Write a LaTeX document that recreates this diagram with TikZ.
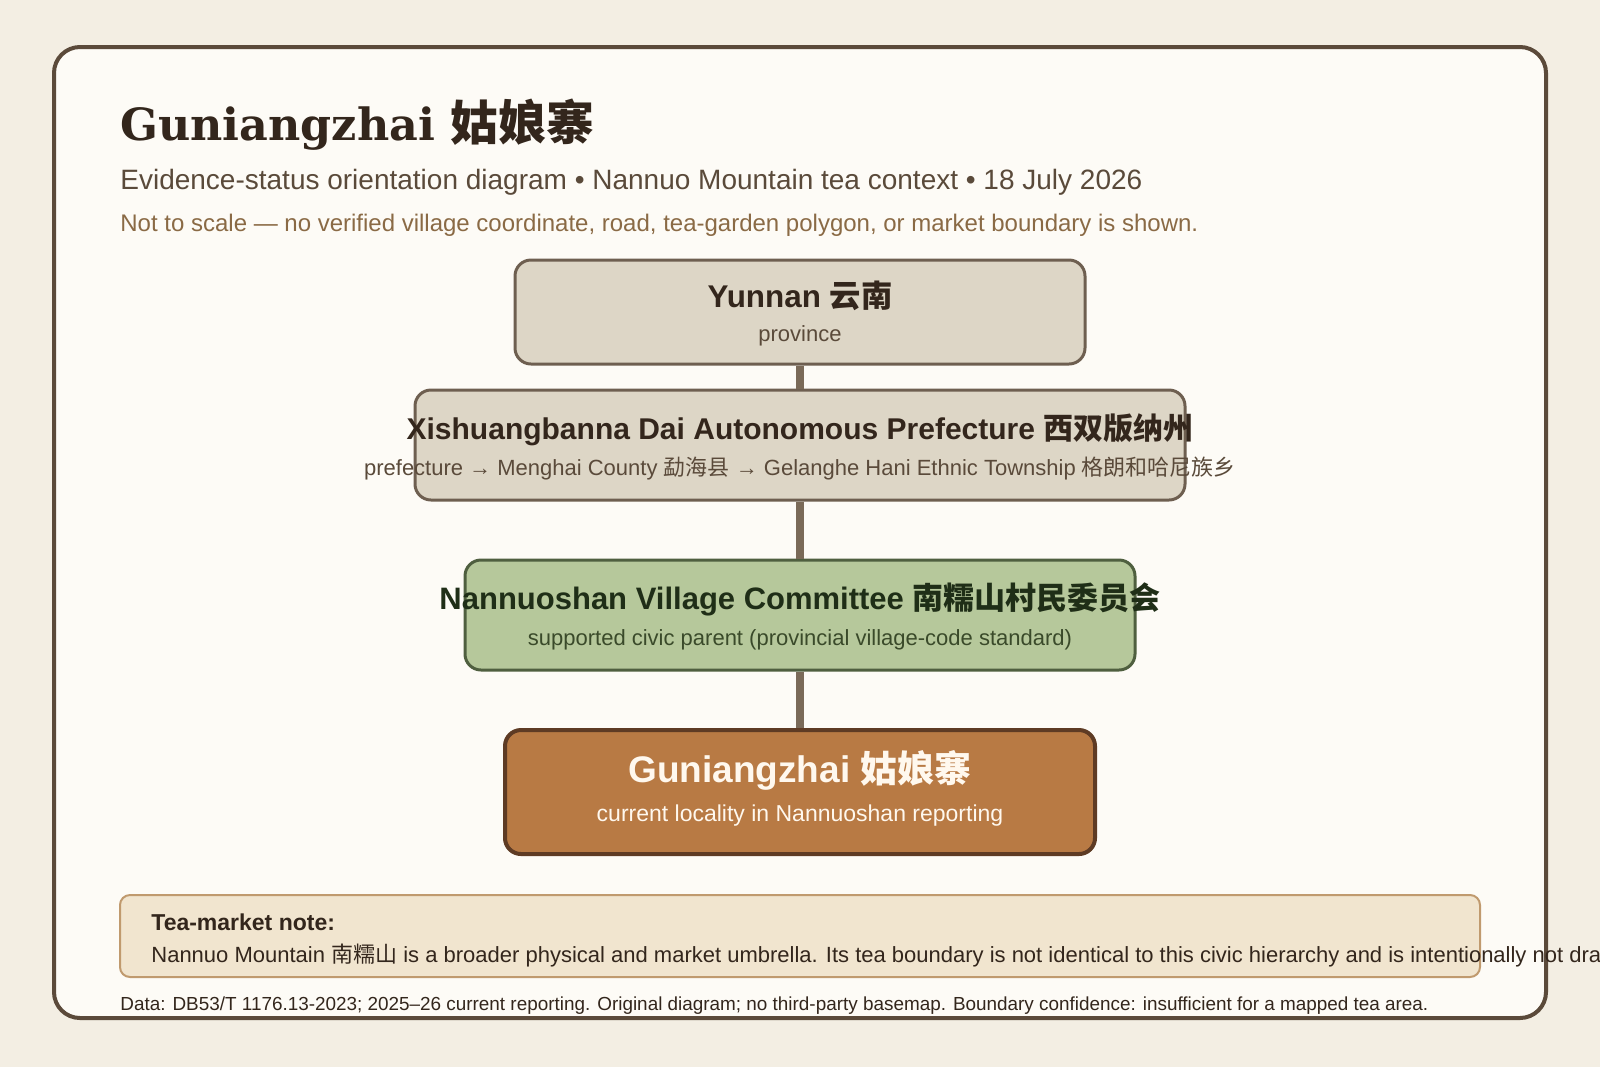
\documentclass[tikz,border=0pt]{standalone}
\usepackage{fontspec}
\setmainfont{Liberation Sans}
\newfontfamily\cjk{Noto Sans CJK SC}
\newfontfamily\headserif{DejaVu Serif}
\usetikzlibrary{positioning}

\definecolor{pagebg}{HTML}{F3EEE3}
\definecolor{panelbg}{HTML}{FDFBF6}
\definecolor{framec}{HTML}{5B4A3A}
\definecolor{inkdark}{HTML}{33261C}
\definecolor{inkmid}{HTML}{5A4A3A}
\definecolor{inknote}{HTML}{8A6A45}
\definecolor{greyfill}{HTML}{DDD6C6}
\definecolor{greyline}{HTML}{6E5F50}
\definecolor{greenfill}{HTML}{B6C89B}
\definecolor{greenline}{HTML}{4F5F3F}
\definecolor{greenink}{HTML}{1F2E17}
\definecolor{greensub}{HTML}{3A4A2A}
\definecolor{ochrefill}{HTML}{B87A44}
\definecolor{ochreline}{HTML}{5E3B24}
\definecolor{ochreink}{HTML}{FFF8EE}
\definecolor{notefill}{HTML}{F1E5CF}
\definecolor{noteline}{HTML}{C09A6E}
\definecolor{linkc}{HTML}{7A6A58}

\newcommand{\fsz}[1]{\fontsize{#1pt}{#1pt}\selectfont}

\tikzset{
    tier/.style={draw=greyline, fill=greyfill, line width=1.5pt, rounded corners=8pt},
    civic/.style={tier, draw=greenline, fill=greenfill},
    locality/.style={tier, draw=ochreline, fill=ochrefill, line width=2pt},
    notebox/.style={draw=noteline, fill=notefill, line width=1pt, rounded corners=5pt},
    tiername/.style={inner sep=0pt, anchor=base, font=\fsz{15}\bfseries, text=inkdark},
    tiersub/.style={inner sep=0pt, anchor=base, font=\fsz{11}, text=inkmid},
    plain/.style={inner sep=0pt, anchor=base west},
    link/.style={draw=linkc, line width=4pt}
}

\begin{document}
\begin{tikzpicture}[x=0.5pt, y=-0.5pt]

    % Page and panel
    \useasboundingbox (0,0) rectangle (1600,1067);
    \clip (0,0) rectangle (1600,1067);
    \fill[pagebg] (0,0) rectangle (1600,1067);
    \draw[framec, fill=panelbg, line width=2pt, rounded corners=13pt] (54,47) rectangle (1546,1018);

    % Heading
    \node[plain, text=inkdark] (title) at (120,140)
        {\headserif\bfseries\fsz{22.2}Guniangzhai {\cjk\fsz{24}姑娘寨}};
    \node[plain, text=inkmid, font=\fsz{14}] (subtitle) at (120,189)
        {Evidence-status orientation diagram • Nannuo Mountain tea context • 18 July 2026};
    \node[plain, text=inknote, font=\fsz{12}] (scalenote) at (120,231)
        {Not to scale — no verified village coordinate, road, tea-garden polygon, or market boundary is shown.};

    % The tiers
    \node[tier, minimum width=285pt, minimum height=52pt] (yun) at (800,312) {};
    \node[tier, minimum width=385pt, minimum height=55pt] (xsbn) at (800,445) {};
    \node[civic, minimum width=335pt, minimum height=55pt] (nns) at (800,615) {};
    \node[locality, minimum width=295pt, minimum height=62pt] (gnz) at (800,792) {};

    \foreach \a/\b in {yun/xsbn, xsbn/nns, nns/gnz}
        \draw[link] (\a.south) -- (\b.north);

    \node[tiername, font=\fsz{15.7}\bfseries] (yunname) at (800,307) {Yunnan {\cjk 云南}};
    \node[tiersub] (yunsub) at (800,341) {province};

    \node[tiername] (xsbnname) at (800,439)
        {Xishuangbanna Dai Autonomous Prefecture {\cjk 西双版纳州}};
    \node[tiersub] (xsbnsub) at (800,475)
        {prefecture → Menghai County {\cjk 勐海县} → Gelanghe Hani Ethnic Township {\cjk 格朗和哈尼族乡}};

    \node[tiername, text=greenink, font=\fsz{15.5}\bfseries] (nnsname) at (800,609)
        {Nannuoshan Village Committee {\cjk 南糯山村民委员会}};
    \node[tiersub, text=greensub] (nnssub) at (800,645)
        {supported civic parent (provincial village-code standard)};

    \node[tiername, text=ochreink, font=\fsz{18.5}\bfseries] (gnzname) at (800,782)
        {Guniangzhai {\cjk 姑娘寨}};
    \node[tiersub, text=ochreink, font=\fsz{11.5}] (gnzsub) at (800,821)
        {current locality in Nannuoshan reporting};

    % Tea-market note
    \node[notebox, minimum width=680pt, minimum height=41pt] (note) at (800,936) {};
    \node[plain, text=inkdark, font=\fsz{11.5}\bfseries] (notehead) at (151,930) {Tea-market note:};
    \node[plain, text=inkdark, font=\fsz{11}] (notebody) at (151,962)
        {Nannuo Mountain {\cjk 南糯山} is a broader physical and market umbrella. Its tea boundary is not identical to this civic hierarchy and is intentionally not drawn.};

    % Footer
    \node[plain, text=inkdark, font=\fsz{9.45}] (footer) at (120,1010)
        {Data: DB53/T 1176.13-2023; 2025–26 current reporting. Original diagram; no third-party basemap. Boundary confidence: insufficient for a mapped tea area.};
\end{tikzpicture}
\end{document}
